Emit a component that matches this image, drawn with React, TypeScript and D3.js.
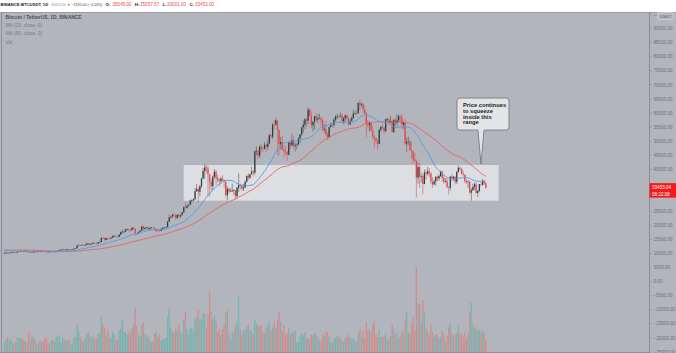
import React, { useRef, useEffect } from 'react';
import * as d3 from 'd3';

// BINANCE:BTCUSDT daily candles, 2020-09-06 .. 2021-07-01
// prices in thousands of USDT, volume in thousands of BTC
const firstDay = Date.UTC(2020, 8, 6);
const firstOpen = 10.17;

// closes before the visible range (2020-07-18 .. 2020-09-05), only used to seed the moving averages
const warmupCloses = [
	9.16, 9.19, 9.16, 9.39, 9.54, 9.61, 9.55, 9.70, 9.93, 11.03, 10.91, 11.10, 11.11, 11.35,
	11.80, 11.07, 11.23, 11.19, 11.74, 11.76, 11.60, 11.78, 11.88, 11.59, 11.38, 11.56, 11.78, 11.77, 11.85, 11.91,
	12.28, 11.95, 11.75, 11.87, 11.49, 11.69, 11.66, 11.75, 11.33, 11.46, 11.32, 11.54, 11.51, 11.68, 11.65,
	11.92, 11.39, 10.17, 10.47, 10.17,
];

const closes = [
	// sep
	10.28, 10.37, 10.13, 10.34, 10.39, 10.44, 10.40, 10.33, 10.68, 10.79, 10.95, 10.94, 10.93, 11.08, 10.92, 10.42, 10.54, 10.24, 10.74, 10.69, 10.73, 10.77, 10.69, 10.84, 10.78,
	// oct
	10.62, 10.57, 10.55, 10.67, 10.79, 10.60, 10.67, 10.92, 11.05, 11.30, 11.38, 11.54, 11.43, 11.43, 11.50, 11.32, 11.36, 11.50, 11.75, 11.91, 12.80, 12.97, 12.93, 13.11, 13.03, 13.07, 13.64, 13.28, 13.46, 13.56, 13.80,
	// nov
	13.76, 13.55, 14.03, 14.15, 15.59, 15.58, 14.83, 15.48, 15.33, 15.30, 15.70, 16.28, 16.32, 16.07, 15.96, 16.72, 17.65, 17.80, 17.82, 18.65, 18.70, 18.42, 18.37, 19.16, 18.72, 17.15, 17.14, 17.72, 18.18, 19.70,
	// dec
	18.77, 19.21, 19.42, 18.65, 19.15, 19.36, 19.17, 18.32, 18.55, 18.25, 18.03, 18.80, 19.17, 19.27, 19.44, 21.35, 22.80, 23.11, 23.83, 23.47, 22.72, 23.82, 23.24, 23.72, 24.69, 26.49, 26.28, 27.08, 27.36, 28.88, 28.92,
	// jan
	29.33, 32.18, 33.00, 31.99, 33.95, 36.77, 39.38, 40.67, 40.24, 38.24, 35.54, 34.01, 37.37, 39.14, 36.77, 36.01, 35.82, 36.63, 36.07, 35.55, 30.83, 33.01, 32.10, 32.27, 32.37, 32.57, 30.43, 33.47, 34.32, 34.30, 33.11,
	// feb
	33.52, 35.52, 37.68, 36.98, 38.29, 39.19, 38.80, 46.37, 46.42, 44.84, 47.97, 47.41, 47.23, 48.69, 47.94, 49.14, 52.12, 51.59, 55.91, 55.89, 57.41, 54.09, 48.89, 49.68, 47.07, 46.28, 46.11, 45.14,
	// mar
	49.59, 48.44, 50.35, 48.37, 48.75, 48.88, 50.97, 52.38, 54.88, 55.85, 57.77, 57.22, 61.19, 59.00, 55.64, 56.92, 58.92, 57.65, 58.03, 58.10, 57.35, 54.08, 54.34, 52.30, 51.30, 55.03, 55.82, 55.78, 57.63, 58.73, 58.74,
	// apr
	58.72, 58.97, 57.06, 58.20, 59.13, 57.99, 56.00, 57.09, 58.20, 59.77, 59.96, 59.84, 63.59, 62.96, 63.22, 61.34, 60.01, 56.15, 55.66, 56.47, 53.80, 51.70, 51.15, 50.11, 49.07, 54.04, 55.07, 54.88, 53.58, 57.80,
	// may
	57.83, 56.61, 57.21, 53.24, 57.51, 56.46, 57.34, 58.84, 58.28, 55.86, 56.75, 49.15, 49.72, 49.88, 46.76, 46.45, 43.54, 42.91, 37.00, 40.78, 37.30, 37.54, 34.77, 38.86, 38.36, 39.26, 38.53, 35.66, 34.65, 35.68, 37.34,
	// jun
	36.69, 37.57, 39.25, 36.86, 35.52, 35.80, 33.58, 33.40, 37.39, 36.69, 37.34, 35.55, 39.02, 40.52, 40.14, 38.35, 38.09, 35.82, 35.48, 35.60, 31.68, 32.51, 33.68, 34.66, 31.59, 32.28, 34.70, 34.49, 35.91, 35.045,
	// jul
	33.453,
];

const highs = [
	10.36, 10.40, 10.44, 10.38, 10.60, 10.48, 10.48, 10.58, 10.80, 10.94, 11.10, 11.04, 11.05, 11.18, 11.05, 10.99, 10.58, 10.57, 10.77, 10.77, 10.78, 10.80, 10.96, 10.86, 10.84,
	10.95, 10.67, 10.60, 10.70, 10.80, 10.80, 10.69, 10.95, 11.10, 11.49, 11.43, 11.72, 11.56, 11.55, 11.63, 11.54, 11.40, 11.52, 11.83, 12.00, 13.22, 13.20, 13.03, 13.18, 13.35, 13.25, 13.78, 13.86, 13.65, 13.68, 14.10,
	13.89, 13.82, 14.07, 14.25, 15.77, 15.97, 15.76, 15.65, 15.83, 15.48, 15.96, 16.48, 16.48, 16.34, 16.17, 16.88, 17.86, 18.48, 18.11, 18.80, 18.96, 18.75, 18.77, 19.42, 19.48, 19.10, 17.46, 17.88, 18.35, 19.86,
	19.92, 19.32, 19.53, 19.50, 19.16, 19.42, 19.38, 19.26, 18.64, 18.55, 18.28, 18.95, 19.41, 19.35, 19.55, 21.56, 23.80, 23.28, 24.17, 24.30, 24.10, 23.84, 24.10, 23.78, 24.79, 26.87, 28.42, 27.50, 27.40, 28.99, 29.30,
	29.60, 33.30, 34.78, 33.60, 34.50, 36.94, 40.36, 41.95, 41.38, 41.35, 38.26, 36.63, 37.85, 40.10, 39.70, 37.95, 36.85, 37.30, 37.85, 36.42, 35.60, 33.83, 33.46, 33.10, 34.88, 32.92, 32.56, 33.78, 38.53, 34.93, 34.33,
	34.72, 35.98, 37.66, 38.70, 38.31, 40.95, 39.70, 46.79, 48.20, 47.31, 48.63, 48.99, 48.04, 49.71, 49.00, 50.60, 52.58, 52.55, 56.37, 57.50, 58.35, 57.53, 54.18, 51.37, 52.04, 48.42, 48.39, 46.70,
	49.79, 50.13, 52.64, 51.77, 49.45, 49.20, 51.45, 52.40, 54.90, 57.39, 58.15, 58.06, 61.84, 61.68, 60.63, 56.94, 58.98, 60.07, 59.47, 59.88, 58.59, 58.40, 55.85, 57.20, 53.23, 55.08, 56.64, 56.56, 58.40, 59.37, 59.80,
	59.46, 60.20, 59.80, 58.49, 59.50, 59.50, 58.65, 58.15, 58.88, 61.25, 60.70, 61.20, 63.77, 64.85, 63.82, 63.57, 62.50, 60.41, 57.52, 57.05, 56.80, 55.47, 52.13, 51.17, 50.59, 54.36, 55.46, 56.43, 55.20, 57.96,
	58.45, 57.92, 58.98, 57.20, 57.92, 58.36, 59.50, 59.46, 59.30, 59.60, 57.00, 57.94, 51.37, 51.56, 50.70, 49.80, 46.64, 45.80, 43.55, 42.54, 42.25, 38.83, 38.27, 39.92, 39.80, 40.90, 40.42, 38.85, 37.23, 36.40, 37.50,
	37.90, 38.23, 39.48, 39.29, 37.92, 36.79, 36.90, 34.07, 37.53, 38.40, 37.68, 37.45, 39.39, 41.33, 40.98, 40.54, 39.56, 38.20, 36.46, 36.10, 35.75, 33.30, 34.88, 35.30, 35.50, 32.70, 34.75, 35.30, 36.60, 36.10,
	35.06,
];

const lows = [
	10.00, 9.88, 9.85, 10.10, 10.25, 10.20, 10.29, 10.21, 10.30, 10.63, 10.65, 10.75, 10.82, 10.88, 10.80, 10.37, 10.35, 10.20, 10.19, 10.55, 10.62, 10.66, 10.63, 10.64, 10.66,
	10.54, 10.37, 10.51, 10.50, 10.58, 10.52, 10.55, 10.65, 10.83, 11.10, 11.19, 11.22, 11.27, 11.20, 11.22, 11.20, 11.23, 11.32, 11.40, 11.69, 11.88, 12.70, 12.72, 12.89, 12.80, 12.79, 13.00, 12.95, 12.98, 13.12, 13.43,
	13.60, 13.29, 13.52, 13.70, 14.10, 15.20, 14.34, 14.73, 14.84, 15.09, 15.25, 15.47, 15.95, 15.70, 15.75, 15.80, 16.53, 17.21, 17.35, 17.75, 18.33, 17.70, 18.00, 18.02, 18.61, 16.19, 16.50, 16.87, 17.50, 18.18,
	18.12, 18.33, 18.87, 18.56, 18.55, 19.00, 18.90, 18.20, 17.65, 17.92, 17.57, 18.02, 18.70, 19.00, 19.05, 19.30, 21.23, 22.35, 22.75, 23.06, 21.82, 22.35, 22.66, 22.70, 23.43, 24.50, 25.80, 26.10, 26.54, 27.32, 27.85,
	28.62, 29.00, 32.00, 28.13, 30.38, 33.29, 36.50, 36.57, 38.72, 30.42, 30.26, 32.53, 32.35, 36.70, 34.41, 35.36, 33.85, 34.86, 35.90, 33.40, 30.07, 28.85, 31.40, 31.92, 31.91, 30.84, 29.24, 29.85, 31.98, 32.90, 32.30,
	32.30, 33.42, 35.36, 36.16, 36.57, 38.14, 37.35, 38.05, 45.00, 43.73, 44.00, 46.20, 46.20, 47.00, 46.20, 47.00, 48.95, 50.85, 50.72, 54.00, 55.50, 45.00, 44.89, 47.00, 46.82, 44.11, 45.00, 43.00,
	45.00, 47.05, 48.10, 47.50, 46.30, 47.10, 48.30, 49.27, 51.84, 53.00, 54.27, 55.00, 56.08, 59.00, 54.60, 53.55, 54.12, 57.00, 56.27, 57.82, 55.45, 53.65, 52.97, 51.70, 50.43, 51.32, 54.90, 54.70, 55.00, 57.00, 57.90,
	57.92, 58.47, 56.90, 56.00, 56.79, 57.67, 55.47, 55.70, 57.67, 58.00, 59.37, 59.36, 59.80, 61.00, 62.02, 60.00, 59.58, 51.50, 54.22, 53.40, 53.41, 50.58, 47.50, 49.00, 47.00, 48.88, 53.21, 54.20, 52.37, 53.07,
	56.90, 56.03, 56.47, 53.05, 52.90, 55.20, 55.30, 56.86, 56.24, 54.37, 54.40, 48.60, 46.00, 48.60, 46.55, 43.83, 42.00, 42.50, 30.00, 34.86, 33.49, 35.20, 31.11, 34.68, 36.42, 37.70, 37.20, 34.68, 33.37, 34.25, 34.18,
	35.67, 35.92, 37.17, 35.60, 34.80, 35.26, 33.30, 31.00, 32.40, 35.80, 35.92, 34.60, 34.76, 38.73, 39.50, 38.10, 37.36, 35.13, 34.80, 33.34, 31.25, 28.80, 32.29, 32.70, 31.27, 30.15, 31.97, 33.85, 34.24, 34.45,
	33.00,
];

const volumes = [
	38, 52, 60, 45, 52, 40, 32, 38, 58, 55, 58, 54, 48, 40, 38, 78, 52, 70, 58, 50, 35, 32, 50, 40, 45,
	55, 60, 38, 33, 45, 50, 42, 60, 62, 68, 38, 58, 48, 45, 45, 52, 30, 34, 55, 60, 105, 80, 62, 48, 42, 55, 75, 78, 62, 58, 60,
	50, 58, 72, 75, 138, 110, 98, 65, 90, 55, 60, 82, 70, 45, 48, 85, 95, 130, 80, 80, 70, 82, 78, 95, 110, 174, 105, 70, 60, 105,
	120, 72, 60, 65, 50, 38, 45, 72, 82, 60, 70, 45, 48, 52, 55, 140, 178, 98, 82, 75, 90, 88, 110, 80, 75, 130, 160, 90, 70, 98, 95,
	82, 130, 140, 165, 130, 130, 155, 150, 95, 150, 240, 160, 130, 145, 125, 80, 90, 68, 90, 110, 155, 165, 75, 50, 80, 82, 105, 120, 222, 90, 70,
	86, 90, 100, 108, 88, 84, 70, 130, 110, 110, 100, 105, 80, 75, 95, 105, 120, 80, 100, 125, 95, 130, 160, 120, 85, 110, 70, 75,
	98, 70, 78, 80, 84, 40, 40, 62, 75, 65, 78, 56, 55, 47, 70, 68, 75, 70, 60, 47, 44, 70, 62, 80, 80, 65, 40, 35, 52, 56, 65,
	60, 52, 46, 40, 55, 60, 70, 55, 52, 55, 40, 42, 75, 90, 60, 85, 55, 120, 85, 90, 80, 110, 125, 70, 60, 90, 60, 60, 62, 70,
	45, 52, 62, 110, 90, 70, 78, 55, 65, 85, 75, 130, 160, 80, 75, 110, 140, 85, 337, 195, 190, 120, 205, 155, 95, 80, 70, 110, 80, 60, 70,
	70, 55, 60, 85, 70, 40, 65, 100, 115, 72, 62, 68, 75, 105, 70, 72, 60, 80, 55, 75, 160, 195, 110, 95, 100, 85, 90, 80, 85, 75,
	48,
];

const priceTicks = [
	-25000, -20000, -15000, -10000, -5000, 0, 5000, 10000, 15000, 20000, 25000, 30000, 35000, 40000,
	45000, 50000, 55000, 60000, 65000, 70000, 75000, 80000, 85000, 90000, 95000,
];

const legendLines = ['Bitcoin / TetherUS, 1D, BINANCE', 'MA (20, close, 0)', 'MA (50, close, 0)', 'Vol'];
const calloutLines = ['Price continues', 'to squeeze', 'inside this', 'range'];

// consolidation range drawn on the chart
const rangeStart = Date.UTC(2020, 11, 26);
const rangeEnd = Date.UTC(2021, 6, 9);
const rangeTop = 41500;
const rangeBottom = 28800;
const calloutTip = Date.UTC(2021, 5, 28);

const lastPrice = 33453.04;
const dayHigh = 35057.57;
const dayLow = 33001.00;
const countdown = '08:22:08';

const W = 676;
const H = 353;

const App: React.FC = () => {
	const svgRef = useRef<SVGSVGElement | null>(null);

	useEffect(() => {
		if (!svgRef.current) return;
		const svg = d3.select(svgRef.current);
		svg.selectAll('*').remove();

		const font = '"Liberation Sans", Arial, sans-serif';
		const plotTop = 12;
		const plotBottom = 352;
		const axisX = 649;

		const candles = closes.map((c, i) => ({
			date: new Date(firstDay + i * 864e5),
			open: (i === 0 ? firstOpen : closes[i - 1]) * 1000,
			high: highs[i] * 1000,
			low: lows[i] * 1000,
			close: c * 1000,
			volume: volumes[i],
		}));

		const x = d3.scaleUtc()
			.domain([new Date(Date.UTC(2020, 8, 4, 12)), new Date(Date.UTC(2021, 9, 10))])
			.range([2, axisX]);
		const y = d3.scaleLinear().domain([0, 90000]).range([281.7, 28.7]);
		const yVol = d3.scaleLinear().domain([0, 337]).range([plotBottom, 267]);
		const step = x(candles[1].date) - x(candles[0].date);

		// backgrounds
		svg.append('rect').attr('width', W).attr('height', H).attr('fill', '#ffffff');
		svg.append('rect').attr('x', 0).attr('y', plotTop).attr('width', W).attr('height', H - plotTop).attr('fill', '#b3b5bd');
		svg.append('line').attr('x1', 0).attr('x2', W).attr('y1', plotTop + 0.5).attr('y2', plotTop + 0.5).attr('stroke', '#9a9da5');
		svg.append('line').attr('x1', 1.5).attr('x2', 1.5).attr('y1', plotTop).attr('y2', plotBottom).attr('stroke', '#8d9098');
		svg.append('line').attr('x1', 0).attr('x2', axisX).attr('y1', plotBottom + 0.5).attr('y2', plotBottom + 0.5).attr('stroke', '#8d9098');

		// range box
		svg.append('rect')
			.attr('x', x(new Date(rangeStart)))
			.attr('y', y(rangeTop))
			.attr('width', x(new Date(rangeEnd)) - x(new Date(rangeStart)))
			.attr('height', y(rangeBottom) - y(rangeTop))
			.attr('fill', '#dddee2');

		// volume
		svg.append('g')
			.selectAll('rect')
			.data(candles)
			.join('rect')
			.attr('x', d => x(d.date) - step * 0.4)
			.attr('width', step * 0.8)
			.attr('y', d => yVol(d.volume))
			.attr('height', d => yVol(0) - yVol(d.volume))
			.attr('fill', d => d.close >= d.open ? '#79b3af' : '#d38c8e');

		// candles
		const cg = svg.append('g');
		cg.selectAll('line')
			.data(candles)
			.join('line')
			.attr('x1', d => x(d.date))
			.attr('x2', d => x(d.date))
			.attr('y1', d => y(d.high))
			.attr('y2', d => y(d.low))
			.attr('stroke', d => d.close >= d.open ? '#4c5a5a' : '#c75a5e')
			.attr('stroke-width', 0.6);
		cg.selectAll('rect')
			.data(candles)
			.join('rect')
			.attr('x', d => x(d.date) - step * 0.38)
			.attr('width', step * 0.76)
			.attr('y', d => y(Math.max(d.open, d.close)))
			.attr('height', d => Math.max(0.6, Math.abs(y(d.open) - y(d.close))))
			.attr('fill', d => d.close >= d.open ? '#263f3d' : '#ee4048');

		// moving averages
		const all = warmupCloses.concat(closes);
		const off = warmupCloses.length;
		const ma = (n: number) => candles.map((d, i) => ({
			date: d.date,
			value: d3.mean(all.slice(off + i - n + 1, off + i + 1)) as number * 1000,
		}));
		const line = d3.line<{ date: Date; value: number }>().x(d => x(d.date)).y(d => y(d.value));
		svg.append('path').attr('d', line(ma(50))).attr('fill', 'none').attr('stroke', '#e4615f').attr('stroke-width', 0.9);
		svg.append('path').attr('d', line(ma(20))).attr('fill', 'none').attr('stroke', '#4f9be3').attr('stroke-width', 0.9);

		// callout
		const tx = x(new Date(calloutTip));
		const ty = y(rangeTop);
		const bx0 = tx - 24, bx1 = tx + 28, by0 = ty - 67, by1 = ty - 35;
		const r = 3;
		const bubble = `M${bx0 + r},${by0} H${bx1 - r} Q${bx1},${by0} ${bx1},${by0 + r} V${by1 - r} Q${bx1},${by1} ${bx1 - r},${by1}` +
			` H${tx + 3} L${tx},${ty - 1} L${tx - 3},${by1} H${bx0 + r} Q${bx0},${by1} ${bx0},${by1 - r} V${by0 + r} Q${bx0},${by0} ${bx0 + r},${by0} Z`;
		svg.append('path').attr('d', bubble).attr('fill', '#e3e4e7').attr('stroke', '#6f7278').attr('stroke-width', 0.8);
		svg.append('g')
			.selectAll('text')
			.data(calloutLines)
			.join('text')
			.attr('x', bx0 + 6)
			.attr('y', (d, i) => by0 + 9 + i * 5.8)
			.attr('font-family', font)
			.attr('font-size', 5.8)
			.attr('font-weight', 'bold')
			.attr('fill', '#1e1f24')
			.text(d => d);

		// price axis (labels under the last-price tag are hidden, as on the platform)
		const py = y(lastPrice);
		const tagTop = py - 4.5, tagBottom = py + 10;
		const badgeX = 657.5;
		svg.append('defs').append('clipPath').attr('id', 'axis-clip')
			.append('rect').attr('x', axisX).attr('y', 0).attr('width', badgeX - axisX).attr('height', 22);
		svg.append('line').attr('x1', axisX + 0.5).attr('x2', axisX + 0.5).attr('y1', plotTop).attr('y2', H).attr('stroke', '#8a8d95');
		const ticks = svg.append('g').selectAll('g')
			.data(priceTicks.filter(d => y(d) < tagTop - 1 || y(d) > tagBottom + 1))
			.join('g')
			.attr('transform', d => `translate(0,${y(d)})`);
		ticks.append('line').attr('x1', axisX).attr('x2', axisX + 3).attr('stroke', '#8a8d95').attr('stroke-width', 0.6);
		ticks.append('text')
			.attr('x', axisX + 4.5)
			.attr('dy', '0.35em')
			.attr('font-family', font)
			.attr('font-size', 4.6)
			.attr('fill', '#6b6e78')
			.text(d => d3.format('.2f')(d).replace('-', '- '));
		// the top label sits under the currency badge
		ticks.filter(d => y(d) < 20).select('text').attr('clip-path', 'url(#axis-clip)');

		// currency badge
		svg.append('rect').attr('x', badgeX).attr('y', 12.5).attr('width', 16.5).attr('height', 7).attr('rx', 1.5)
			.attr('fill', '#b9bbc3').attr('stroke', '#d2d4da').attr('stroke-width', 0.6);
		svg.append('text').attr('x', 665.7).attr('y', 17.6).attr('text-anchor', 'middle').attr('font-family', font)
			.attr('font-size', 4.4).attr('fill', '#50535c').text('USDT');

		// last price tag
		svg.append('rect').attr('x', axisX + 0.5).attr('y', tagTop).attr('width', W - axisX).attr('height', tagBottom - tagTop).attr('fill', '#f21a1a');
		svg.append('text').attr('x', axisX + 3).attr('y', py + 1.6).attr('font-family', font).attr('font-size', 4.6).attr('fill', '#ffffff')
			.text(d3.format('.2f')(lastPrice));
		svg.append('text').attr('x', axisX + 3).attr('y', py + 8).attr('font-family', font).attr('font-size', 4.6).attr('fill', '#ffffff')
			.text(countdown);

		// legend
		svg.append('g')
			.selectAll('text')
			.data(legendLines)
			.join('text')
			.attr('x', 5.5)
			.attr('y', (d, i) => 18.5 + i * 8.4)
			.attr('font-family', font)
			.attr('font-size', 4.9)
			.attr('font-weight', (d, i) => i === 0 ? 'bold' : 'normal')
			.attr('fill', (d, i) => i === 0 ? '#4a4d56' : '#767983')
			.text(d => d);

		// header
		const last = candles[candles.length - 1];
		const prev = candles[candles.length - 2];
		const chg = last.close - prev.close;
		const f2 = d3.format('.2f');
		const red = '#ee4b4b';
		const header = [
			{ t: 'BINANCE:BTCUSDT, 1D', x: 0.5, s: 4.2, c: '#131722', b: true },
			{ t: f2(lastPrice), x: 51, s: 3.5, c: '#8c8f98', b: false },
			{ t: '▼', x: 67, s: 3.6, c: '#f23645', b: false },
			{ t: `${f2(chg).replace('-', '−')} (${f2(chg / prev.close * 100).replace('-', '−')}%)`, x: 71.5, s: 3.6, c: '#3c3f48', b: false },
			{ t: 'O:', x: 105.5, s: 4.4, c: '#131722', b: true },
			{ t: f2(last.open), x: 112.5, s: 4.6, c: red, b: false },
			{ t: 'H:', x: 134.8, s: 4.4, c: '#131722', b: true },
			{ t: f2(dayHigh), x: 140, s: 4.6, c: red, b: false },
			{ t: 'L:', x: 162.5, s: 4.4, c: '#131722', b: true },
			{ t: f2(dayLow), x: 167, s: 4.6, c: red, b: false },
			{ t: 'C:', x: 189.5, s: 4.4, c: '#131722', b: true },
			{ t: f2(last.close), x: 195, s: 4.6, c: red, b: false },
		];
		svg.append('g')
			.selectAll('text')
			.data(header)
			.join('text')
			.attr('x', d => d.x)
			.attr('y', 6.3)
			.attr('font-family', font)
			.attr('font-size', d => d.s)
			.attr('font-weight', d => d.b ? 'bold' : 'normal')
			.attr('fill', d => d.c)
			.text(d => d.t);

		return () => {
			svg.selectAll('*').remove();
		};
	}, []);

	return (
		<div style={{ position: 'absolute', left: 0, top: 0 }}>
			<svg ref={svgRef} width={W} height={H} style={{ display: 'block' }} />
		</div>
	);
};

export default App;
